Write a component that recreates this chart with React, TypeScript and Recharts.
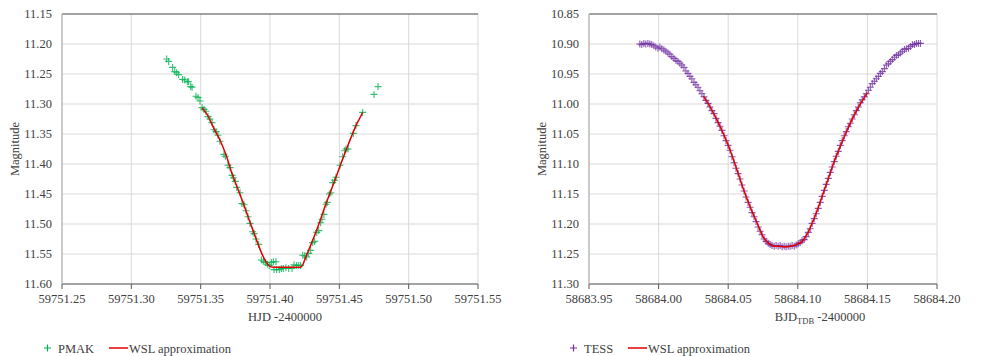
import React from "react";
import { ComposedChart, Scatter, XAxis, YAxis, CartesianGrid, ReferenceLine } from "recharts";

// ---------- Left chart: PMAK ----------
const PMAK_X = [
  59751.3255, 59751.3269, 59751.3298, 59751.3313, 59751.3327, 59751.3341, 59751.337, 59751.3385, 59751.3404, 59751.3413,
  59751.3428, 59751.3438, 59751.3466, 59751.3481, 59751.3495, 59751.351, 59751.3524, 59751.3538, 59751.3553, 59751.3567,
  59751.3582, 59751.3596, 59751.3611, 59751.3625, 59751.3639, 59751.3668, 59751.3678, 59751.3697, 59751.3712, 59751.3726,
  59751.3736, 59751.375, 59751.376, 59751.3784, 59751.3798, 59751.3813, 59751.3827, 59751.3841, 59751.3856, 59751.3875,
  59751.3885, 59751.3899, 59751.3918, 59751.3938, 59751.3952, 59751.3966, 59751.3981, 59751.3995, 59751.401, 59751.4024,
  59751.4043, 59751.4029, 59751.4048, 59751.4067, 59751.4082, 59751.4096, 59751.4115, 59751.4135, 59751.4159, 59751.4173,
  59751.4192, 59751.4207, 59751.4221, 59751.4236, 59751.425, 59751.4264, 59751.4279, 59751.4293, 59751.4308, 59751.4322,
  59751.4337, 59751.4351, 59751.4365, 59751.4375, 59751.4389, 59751.4404, 59751.4413, 59751.4428, 59751.4438, 59751.4452,
  59751.4466, 59751.4476, 59751.4505, 59751.4524, 59751.4538, 59751.4548, 59751.4563, 59751.4601, 59751.462, 59751.4668,
  59751.475, 59751.4779,
];
const PMAK_MAG = [
  11.225, 11.229, 11.239, 11.246, 11.248, 11.251, 11.259, 11.26, 11.263, 11.263,
  11.271, 11.272, 11.287, 11.289, 11.295, 11.306, 11.309, 11.312, 11.321, 11.325,
  11.331, 11.343, 11.346, 11.352, 11.362, 11.384, 11.387, 11.402, 11.406, 11.419,
  11.423, 11.429, 11.439, 11.448, 11.466, 11.468, 11.478, 11.488, 11.499, 11.513,
  11.516, 11.525, 11.534, 11.56, 11.562, 11.564, 11.567, 11.569, 11.564, 11.563,
  11.563, 11.576, 11.576, 11.576, 11.574, 11.574, 11.573, 11.574, 11.574, 11.568,
  11.569, 11.569, 11.569, 11.552, 11.553, 11.555, 11.549, 11.544, 11.531, 11.529,
  11.514, 11.511, 11.498, 11.492, 11.484, 11.467, 11.464, 11.45, 11.448, 11.431,
  11.427, 11.422, 11.402, 11.388, 11.378, 11.375, 11.375, 11.349, 11.336, 11.314,
  11.284, 11.271,
];
const WSL1_X = [
  59751.351, 59751.3553, 59751.3596, 59751.3639, 59751.3683, 59751.3726, 59751.3769, 59751.3813, 59751.3856, 59751.3899,
  59751.3935, 59751.3971, 59751.3995, 59751.4019, 59751.4221, 59751.4236, 59751.426, 59751.4296, 59751.4332, 59751.4368,
  59751.4404, 59751.444, 59751.4476, 59751.4512, 59751.4548, 59751.4584, 59751.462, 59751.4644, 59751.4668,
];
const WSL1_MAG = [
  11.306, 11.32, 11.341, 11.36, 11.385, 11.416, 11.442, 11.469, 11.497, 11.524,
  11.546, 11.563, 11.57, 11.572, 11.572, 11.568, 11.554, 11.534, 11.513, 11.49,
  11.466, 11.444, 11.422, 11.399, 11.377, 11.356, 11.336, 11.325, 11.314,
];
const X1_TICKS = [59751.25, 59751.3, 59751.35, 59751.4, 59751.45, 59751.5, 59751.55];
const Y1_TICKS = [11.15, 11.2, 11.25, 11.3, 11.35, 11.4, 11.45, 11.5, 11.55, 11.6];

// ---------- Right chart: TESS ----------
const TESS_X = [
  58683.9865, 58683.9879, 58683.9894, 58683.9908, 58683.9923, 58683.9937, 58683.9951, 58683.9966, 58683.998, 58683.9995,
  58684.0009, 58684.0023, 58684.0038, 58684.0052, 58684.0067, 58684.0081, 58684.0095, 58684.011, 58684.0124, 58684.0139,
  58684.0153, 58684.0167, 58684.0182, 58684.0196, 58684.0211, 58684.0225, 58684.0239, 58684.0254, 58684.0268, 58684.0283,
  58684.0297, 58684.0311, 58684.0326, 58684.034, 58684.0355, 58684.0369, 58684.0383, 58684.0398, 58684.0412, 58684.0427,
  58684.0441, 58684.0455, 58684.047, 58684.0484, 58684.0499, 58684.0513, 58684.0527, 58684.0542, 58684.0556, 58684.0571,
  58684.0585, 58684.0599, 58684.0614, 58684.0628, 58684.0643, 58684.0657, 58684.0671, 58684.0686, 58684.07, 58684.0715,
  58684.0729, 58684.0743, 58684.0758, 58684.0772, 58684.0787, 58684.0801, 58684.0815, 58684.083, 58684.0844, 58684.0859,
  58684.0873, 58684.0887, 58684.0902, 58684.0916, 58684.0931, 58684.0945, 58684.0959, 58684.0974, 58684.0988, 58684.1003,
  58684.1017, 58684.1031, 58684.1046, 58684.106, 58684.1075, 58684.1089, 58684.1103, 58684.1118, 58684.1132, 58684.1147,
  58684.1161, 58684.1175, 58684.119, 58684.1204, 58684.1219, 58684.1233, 58684.1247, 58684.1262, 58684.1276, 58684.1291,
  58684.1305, 58684.1319, 58684.1334, 58684.1348, 58684.1363, 58684.1377, 58684.1391, 58684.1406, 58684.142, 58684.1435,
  58684.1449, 58684.1463, 58684.1478, 58684.1492, 58684.1507, 58684.1521, 58684.1535, 58684.155, 58684.1564, 58684.1579,
  58684.1593, 58684.1607, 58684.1622, 58684.1636, 58684.1651, 58684.1665, 58684.1679, 58684.1694, 58684.1708, 58684.1723,
  58684.1737, 58684.1751, 58684.1766, 58684.178, 58684.1795, 58684.1809, 58684.1823, 58684.1838, 58684.1852, 58684.1867,
  58684.1881,
];
const TESS_MAG = [
  10.9, 10.901, 10.899, 10.9, 10.899, 10.9, 10.901, 10.903, 10.905, 10.907,
  10.905, 10.908, 10.91, 10.912, 10.915, 10.917, 10.921, 10.924, 10.927, 10.929,
  10.932, 10.935, 10.939, 10.945, 10.949, 10.954, 10.958, 10.964, 10.968, 10.972,
  10.978, 10.983, 10.988, 10.994, 10.999, 11.005, 11.011, 11.016, 11.024, 11.031,
  11.037, 11.044, 11.053, 11.061, 11.069, 11.077, 11.088, 11.098, 11.107, 11.116,
  11.125, 11.135, 11.145, 11.155, 11.164, 11.172, 11.181, 11.188, 11.196, 11.205,
  11.212, 11.218, 11.225, 11.229, 11.232, 11.234, 11.236, 11.237, 11.236, 11.237,
  11.236, 11.238, 11.237, 11.238, 11.237, 11.237, 11.236, 11.237, 11.235, 11.233,
  11.231, 11.228, 11.226, 11.221, 11.214, 11.208, 11.199, 11.191, 11.183, 11.174,
  11.164, 11.154, 11.144, 11.134, 11.124, 11.114, 11.105, 11.096, 11.087, 11.079,
  11.069, 11.061, 11.053, 11.046, 11.038, 11.032, 11.025, 11.018, 11.011, 11.005,
  10.998, 10.993, 10.988, 10.983, 10.977, 10.972, 10.966, 10.962, 10.958, 10.954,
  10.949, 10.946, 10.941, 10.935, 10.933, 10.929, 10.926, 10.922, 10.919, 10.918,
  10.915, 10.912, 10.909, 10.908, 10.907, 10.904, 10.901, 10.901, 10.899, 10.899,
  10.899,
];
const WSL2_X = [
  58684.0322, 58684.037, 58684.0418, 58684.0466, 58684.0514, 58684.0562, 58684.0611, 58684.0659, 58684.0707, 58684.0755,
  58684.0791, 58684.0827, 58684.0863, 58684.0899, 58684.0947, 58684.0995, 58684.1031, 58684.1067, 58684.1115, 58684.1163,
  58684.1212, 58684.126, 58684.1308, 58684.1356, 58684.1404, 58684.1452, 58684.15,
];
const WSL2_MAG = [
  10.987, 11.005, 11.026, 11.05, 11.077, 11.109, 11.143, 11.172, 11.198, 11.223,
  11.232, 11.237, 11.237, 11.238, 11.237, 11.234, 11.229, 11.217, 11.192, 11.162,
  11.129, 11.097, 11.069, 11.043, 11.019, 10.999, 10.981,
];
const X2_TICKS = [58683.95, 58684.0, 58684.05, 58684.1, 58684.15, 58684.2];
const Y2_TICKS = [10.85, 10.9, 10.95, 11.0, 11.05, 11.1, 11.15, 11.2, 11.25, 11.3];

const FONT = "Liberation Serif, DejaVu Serif, Times New Roman, serif";
const TEXT = "#404040";
const GREEN = "#00b050";
const PURPLE = "#7030a0";
const RED = "#e00000";

const zip = (xs: number[], ys: number[]) => xs.map((x, i) => ({ x, y: ys[i] }));

const makePlus = (color: string, opacity: number) => (props: any) => {
  const { cx, cy } = props;
  if (cx == null || cy == null) return <g />;
  return (
    <path
      d={`M${cx - 3.5},${cy}h7M${cx},${cy - 3.5}v7`}
      stroke={color}
      strokeOpacity={opacity}
      strokeWidth={1.1}
      fill="none"
    />
  );
};
const NoShape = () => <g />;

const tickStyle = { fontFamily: FONT, fontSize: 12.5, fill: TEXT, style: { fontFamily: FONT } };

function MagLabel(props: any) {
  const vb = props.viewBox || {};
  const x = vb.x + vb.width - 46;
  const y = vb.y + vb.height / 2;
  return (
    <text x={x} y={y} transform={`rotate(-90, ${x}, ${y})`} textAnchor="middle" dominantBaseline="middle"
      fontFamily={FONT} style={{ fontFamily: FONT }} fontSize={12.5} fill={TEXT}>
      Magnitude
    </text>
  );
}

const makeXLabel = (dx: number, sub: boolean) => (props: any) => {
  const vb = props.viewBox || {};
  const x = vb.x + vb.width / 2 + dx;
  const y = 321;
  return (
    <text x={x} y={y} textAnchor="middle" fontFamily={FONT} style={{ fontFamily: FONT }} fontSize={12.5} fill={TEXT}>
      {sub ? (
        <>
          <tspan>BJD</tspan>
          <tspan fontSize={8.5} dy={3}>TDB</tspan>
          <tspan dy={-3}> -2400000</tspan>
        </>
      ) : (
        "HJD -2400000"
      )}
    </text>
  );
};

type PanelProps = {
  left: number;
  width: number;
  marginLeft: number;
  marginRight: number;
  xTicks: number[];
  yTicks: number[];
  points: { x: number; y: number }[];
  fit: { x: number; y: number }[];
  color: string;
  opacity: number;
  xLabel: (p: any) => any;
};

function Panel(p: PanelProps) {
  return (
    <div style={{ position: "absolute", left: p.left, top: 0 }}>
      <ComposedChart
        width={p.width}
        height={356}
        margin={{ top: 14, right: p.marginRight, bottom: 32, left: p.marginLeft }}
        style={{ fontFamily: FONT }}
      >
        <CartesianGrid stroke="#d9d9d9" strokeWidth={1} />
        <XAxis
          type="number"
          dataKey="x"
          domain={[p.xTicks[0], p.xTicks[p.xTicks.length - 1]]}
          ticks={p.xTicks}
          allowDataOverflow
          tickFormatter={(v: number) => v.toFixed(2)}
          tick={tickStyle}
          axisLine={{ stroke: "#595959", strokeWidth: 1.2 }}
          tickLine={{ stroke: "#595959" }}
          tickSize={5}
          tickMargin={5}
          height={40}
          interval={0}
          label={{ content: p.xLabel }}
        />
        <YAxis
          type="number"
          dataKey="y"
          reversed
          domain={[p.yTicks[0], p.yTicks[p.yTicks.length - 1]]}
          ticks={p.yTicks}
          allowDataOverflow
          tickFormatter={(v: number) => v.toFixed(2)}
          tick={tickStyle}
          axisLine={{ stroke: "#bfbfbf", strokeWidth: 1.5 }}
          tickLine={false}
          tickSize={5}
          tickMargin={5}
          width={62}
          interval={0}
          label={{ content: MagLabel }}
        />
        <ReferenceLine y={p.yTicks[0]} stroke="#595959" strokeWidth={1.2} />
        <Scatter
          data={p.points}
          shape={makePlus(p.color, p.opacity)}
          isAnimationActive={false}
        />
        <Scatter
          data={p.fit}
          shape={NoShape}
          line={{ stroke: RED, strokeWidth: 1.5 }}
          lineType="joint"
          lineJointType="monotoneX"
          isAnimationActive={false}
        />
      </ComposedChart>
    </div>
  );
}

function LegendItem({ left, color, name }: { left: number; color: string; name: string }) {
  const nameWidth = name === "PMAK" ? 50 : 43;
  return (
    <div style={{ position: "absolute", left, top: 339, height: 18, fontFamily: FONT, fontSize: 12.5, color: TEXT, whiteSpace: "nowrap" }}>
      <svg width={300} height={18} style={{ position: "absolute", left: 0, top: 0, fontFamily: FONT }}>
        <path d="M0,9h7M3.5,5.5v7" stroke={color} strokeWidth={1.2} />
        <text x={14} y={13.5} fontFamily={FONT} style={{ fontFamily: FONT }} fontSize={12.5} fill={TEXT}>{name}</text>
        <line x1={11 + nameWidth + 4} x2={11 + nameWidth + 23} y1={9} y2={9} stroke={RED} strokeWidth={1.5} />
        <text x={11 + nameWidth + 24} y={13.5} fontFamily={FONT} style={{ fontFamily: FONT }} fontSize={12.5} fill={TEXT}>WSL approximation</text>
      </svg>
    </div>
  );
}

export default function App() {
  return (
    <div style={{ position: "absolute", left: 0, top: 0, width: 993, height: 356, background: "#fff", overflow: "hidden", fontFamily: FONT }}>
      <Panel
        left={0}
        width={530}
        marginLeft={0}
        marginRight={52}
        xTicks={X1_TICKS}
        yTicks={Y1_TICKS}
        points={zip(PMAK_X, PMAK_MAG)}
        fit={zip(WSL1_X, WSL1_MAG)}
        color={GREEN}
        opacity={0.8}
        xLabel={makeXLabel(15, false)}
      />
      <Panel
        left={496}
        width={497}
        marginLeft={31}
        marginRight={56}
        xTicks={X2_TICKS}
        yTicks={Y2_TICKS}
        points={zip(TESS_X, TESS_MAG)}
        fit={zip(WSL2_X, WSL2_MAG)}
        color={PURPLE}
        opacity={0.8}
        xLabel={makeXLabel(57, true)}
      />
      <LegendItem left={44} color={GREEN} name="PMAK" />
      <LegendItem left={570} color={PURPLE} name="TESS" />
    </div>
  );
}
